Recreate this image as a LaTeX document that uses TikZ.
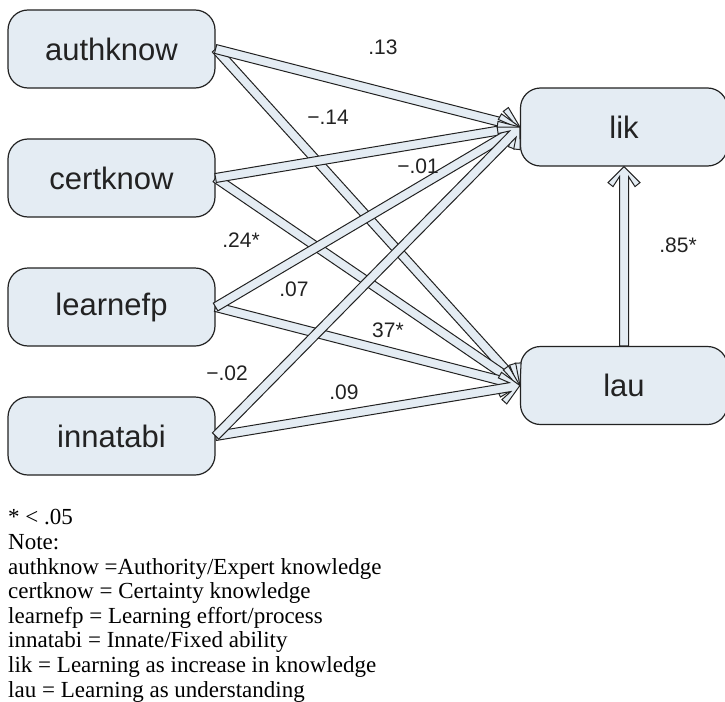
\documentclass[tikz,border=0pt]{standalone}
\usepackage{fontspec}
\setmainfont{Liberation Serif}
\newfontfamily\diagfont{Liberation Sans}
\usetikzlibrary{calc}
\definecolor{boxfill}{HTML}{E4ECF3}
\definecolor{ink}{HTML}{222222}

\tikzset{
  var/.style={draw=ink, line width=1.2pt, fill=boxfill, rounded corners=20pt,
    minimum width=207pt, minimum height=78pt, inner sep=0pt,
    font=\diagfont\fontsize{31}{36}\selectfont, text=ink},
  coef/.style={font=\diagfont\fontsize{21}{24}\selectfont, text=ink, inner sep=0pt},
  notetext/.style={font=\fontsize{23}{25}\selectfont, text=black, anchor=base west, inner sep=0pt},
  arrowbody/.style={draw=ink, line width=1pt, fill=boxfill, line join=miter}
}

% Hollow path arrow with a chevron head, from #1 to #2
\newcommand\fatarrow[2]{%
  \path[arrowbody]
    ($(#1)!4.5pt!90:(#2)$)
    -- ($(#2)!10pt!(#1)!4.5pt!-90:(#1)$)
    -- ($(#2)!20pt!(#1)!11pt!-90:(#1)$)
    -- ($(#2)!16pt!(#1)!16pt!-90:(#1)$)
    -- (#2)
    -- ($(#2)!16pt!(#1)!16pt!90:(#1)$)
    -- ($(#2)!20pt!(#1)!11pt!90:(#1)$)
    -- ($(#2)!10pt!(#1)!4.5pt!90:(#1)$)
    -- ($(#1)!4.5pt!-90:(#2)$)
    -- cycle;}

\begin{document}
\begin{tikzpicture}[x=1pt,y=-1pt]
\useasboundingbox (0,0) rectangle (725,701);

% variables
\node[var] (auth)  at (111.5,49)  {authknow};
\node[var] (cert)  at (111.5,178) {certknow};
\node[var] (learn) at (111.5,307) {learnefp};
\node[var] (innat) at (111.5,436) {innatabi};
\node[var] (lik)   at (624,127)   {lik};
\node[var] (lau)   at (624,385.5) {lau};

% paths
\fatarrow{auth.east}{lau.west}
\fatarrow{cert.east}{lau.west}
\fatarrow{learn.east}{lau.west}
\fatarrow{innat.east}{lau.west}
\fatarrow{auth.east}{lik.west}
\fatarrow{cert.east}{lik.west}
\fatarrow{learn.east}{lik.west}
\fatarrow{innat.east}{lik.west}
\fatarrow{lau.north}{lik.south}

% coefficients
\node[coef] (c1) at (383,47)  {.13};
\node[coef] (c2) at (328,117) {−.14};
\node[coef] (c3) at (418,166) {−.01};
\node[coef] (c4) at (241,240) {.24*};
\node[coef] (c5) at (294,289) {.07};
\node[coef] (c6) at (388,330) {37*};
\node[coef] (c7) at (227,373) {−.02};
\node[coef] (c8) at (344,392) {.09};
\node[coef] (c9) at (678,245) {.85*};

% legend
\node[notetext] (n0) at (8,524.8) {* < .05};
\node[notetext] (n1) at (8,549.4) {Note:};
\node[notetext] (n2) at (8,574.0) {authknow =Authority/Expert knowledge};
\node[notetext] (n3) at (8,598.6) {certknow = Certainty knowledge};
\node[notetext] (n4) at (8,623.2) {learnefp = Learning effort/process};
\node[notetext] (n5) at (8,647.8) {innatabi = Innate/Fixed ability};
\node[notetext] (n6) at (8,672.4) {lik = Learning as increase in knowledge};
\node[notetext] (n7) at (8,697.0) {lau = Learning as understanding};
\end{tikzpicture}
\end{document}
